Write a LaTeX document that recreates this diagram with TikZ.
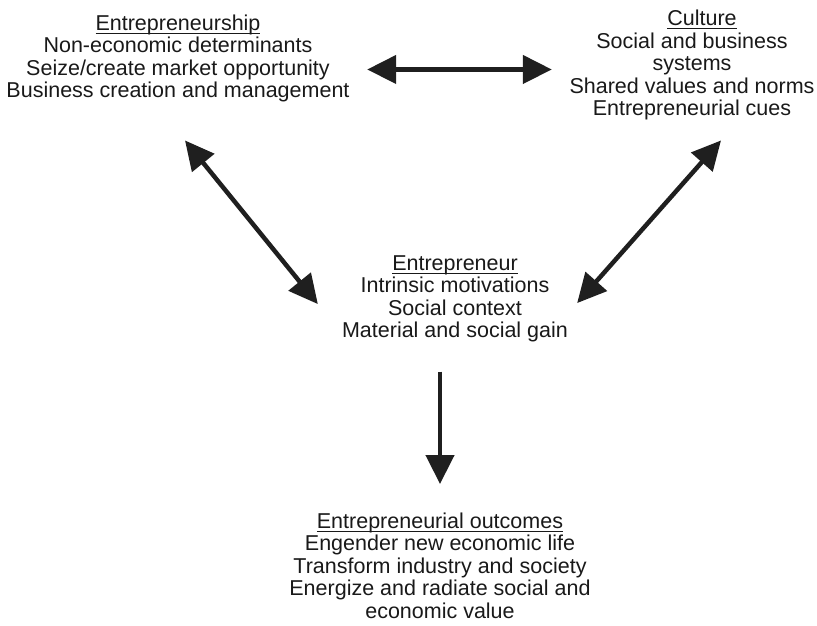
\documentclass[tikz,border=0pt]{standalone}
\usepackage{fontspec}
\setmainfont{Liberation Sans}
\usepackage{tikz}
\usetikzlibrary{arrows.meta, calc, positioning}
\newcommand{\kop}[1]{\sbox0{#1}\rlap{\rule[-3.5pt]{\wd0}{1.2pt}}\usebox0}

\begin{document}
\begin{tikzpicture}[
    x=1pt, y=-1pt,
    blokk/.style = {align=center, inner sep=0pt, anchor=north,
                    font=\fontsize{21.5}{22.5}\selectfont, text=black!90},
    pil/.style = {black!88, line width=4.5pt,
                  {Triangle[length=29pt,width=28pt]}-{Triangle[length=29pt,width=28pt]}},
    enpil/.style = {black!88, line width=4.5pt, -{Triangle[length=29pt,width=28pt]}}
    ]
  \useasboundingbox (0,0) rectangle (817,625);

  \node[blokk] (ship) at (178,14.5)
    {\kop{Entrepreneurship}\\ Non-economic determinants\\
     Seize/create market opportunity\\ Business creation and management} ;
  \node[blokk] (culture) at (692,10)
    {\hspace*{20pt}\kop{Culture}\\ Social and business\\ systems\\
     Shared values and norms\\ Entrepreneurial cues} ;
  \node[blokk] (ent) at (455,255.5)
    {\kop{Entrepreneur}\\ Intrinsic motivations\\ Social context\\
     Material and social gain} ;
  \node[blokk] (out) at (440,512.5)
    {\kop{Entrepreneurial outcomes}\\ Engender new economic life\\
     Transform industry and society\\ Energize and radiate social and\\
     economic value} ;

  \draw[pil] ($(ship.east)+(17.5,11)$) -- ($(ship.east -| culture.west)+(-17.5,11)$) ;
  \draw[pil] ($(ship.south)+(7,38)$) -- ($(ent.west)+(-24,5)$) ;
  \draw[pil] ($(culture.south)+(29,20)$) -- ($(ent.east)+(9,4)$) ;
  \draw[enpil] ($(ent.south -| out.north)+(0,29)$) -- ($(out.north)+(0,-28.5)$) ;
\end{tikzpicture}
\end{document}
